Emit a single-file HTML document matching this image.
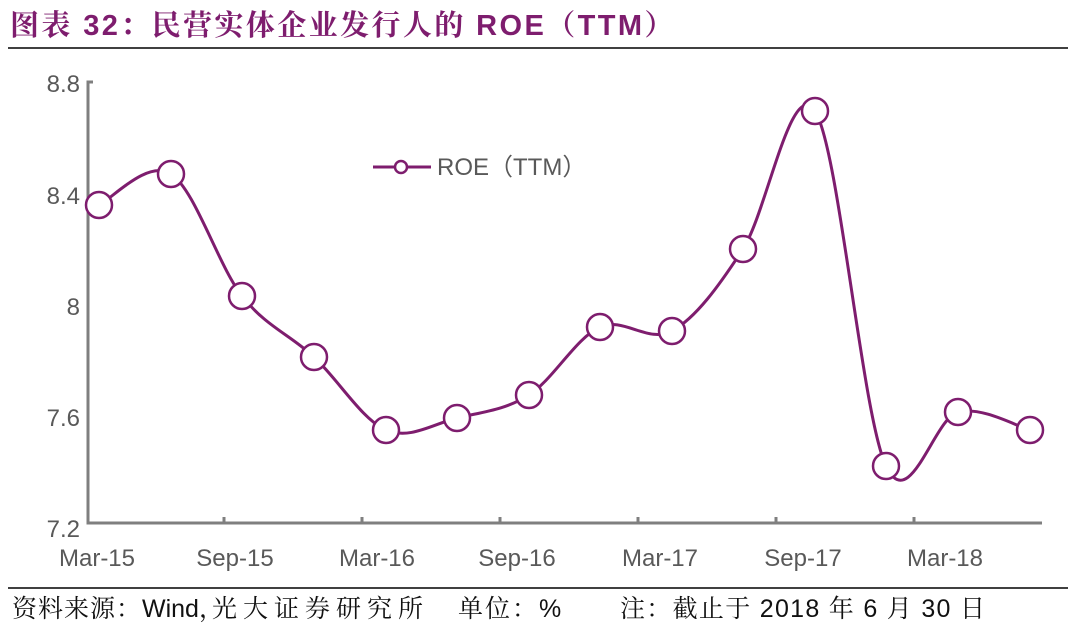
<!DOCTYPE html>
<html><head><meta charset="utf-8"><style>
html,body{margin:0;padding:0;background:#fff;width:1076px;height:638px;overflow:hidden}
svg{display:block}
</style></head><body>
<svg id="s" width="1076" height="638" xmlns="http://www.w3.org/2000/svg" font-family="Liberation Sans, sans-serif">
<text x="10" y="35" font-size="29" font-weight="bold" fill="#7e1d6e" font-family="Liberation Sans, Noto Serif CJK SC, serif" letter-spacing="2.4">图表 32：民营实体企业发行人的 ROE（TTM）</text>
<line x1="8" y1="48" x2="1068" y2="48" stroke="#000" stroke-width="1.5"/>
<g fill="#595959" font-size="24">
<text x="80" y="92" text-anchor="end">8.8</text>
<text x="80" y="204" text-anchor="end">8.4</text>
<text x="80" y="315" text-anchor="end">8</text>
<text x="80" y="426" text-anchor="end">7.6</text>
<text x="80" y="537" text-anchor="end">7.2</text>
<g text-anchor="middle">
<text x="97" y="566">Mar-15</text><text x="235" y="566">Sep-15</text><text x="377" y="566">Mar-16</text>
<text x="517" y="566">Sep-16</text><text x="660" y="566">Mar-17</text><text x="803" y="566">Sep-17</text><text x="945" y="566">Mar-18</text>
</g></g>
<g stroke="#7f7f7f" stroke-width="3" fill="none">
<path d="M93 82 H88 V523 H1042"/>
<path d="M224 523v-6M362 523v-6M500 523v-6M638 523v-6M776 523v-6M914 523v-6"/>
</g>
<path id="curve" fill="none" stroke="#7e1d6e" stroke-width="3"/>
<g id="marks" fill="none" stroke="#7e1d6e" stroke-width="2.5"></g>
<line x1="373" y1="167" x2="431" y2="167" stroke="#7e1d6e" stroke-width="3"/>
<circle cx="401" cy="167" r="6" fill="#fff" stroke="#7e1d6e" stroke-width="2.5"/>
<text x="437" y="175" font-size="24" fill="#595959" font-family="Liberation Sans, Noto Sans CJK SC, sans-serif">ROE（TTM）</text>
<line x1="8" y1="588" x2="1068" y2="588" stroke="#000" stroke-width="1.5"/>
<g font-size="25" fill="#111" font-family="Liberation Sans, Noto Serif CJK SC, serif">
<text x="12" y="617" letter-spacing="1">资料来源：</text>
<text x="142" y="617">Wind，</text>
<text x="212" y="617" letter-spacing="6">光大证券研究所</text>
<text x="458" y="617" letter-spacing="2">单位：%</text>
<text x="620" y="617" letter-spacing="1.3">注：截止于 2018 年 6 月 30 日</text>
</g>
</svg>
<script>
var xs=[99,171,242,314,386,457,529,600,672,743,815,886,958,1030];
var ys=[205,174,296,357,430,418,395,327,331,249,111,466,412,430];
var d="M"+xs[0]+" "+ys[0];
for(var i=0;i<xs.length-1;i++){
 var p0=i?i-1:i,p3=i+2<xs.length?i+2:i+1;
 var c1x=xs[i]+(xs[i+1]-xs[p0])/6,c1y=ys[i]+(ys[i+1]-ys[p0])/6;
 var c2x=xs[i+1]-(xs[p3]-xs[i])/6,c2y=ys[i+1]-(ys[p3]-ys[i])/6;
 d+=" C"+c1x+" "+c1y+" "+c2x+" "+c2y+" "+xs[i+1]+" "+ys[i+1];
}
document.getElementById("curve").setAttribute("d",d);
var g=document.getElementById("marks"),h="";
for(var i=0;i<xs.length;i++)h+='<circle cx="'+xs[i]+'" cy="'+ys[i]+'" r="13" fill="#fff"/>';
g.innerHTML=h;
</script>
</body></html>
